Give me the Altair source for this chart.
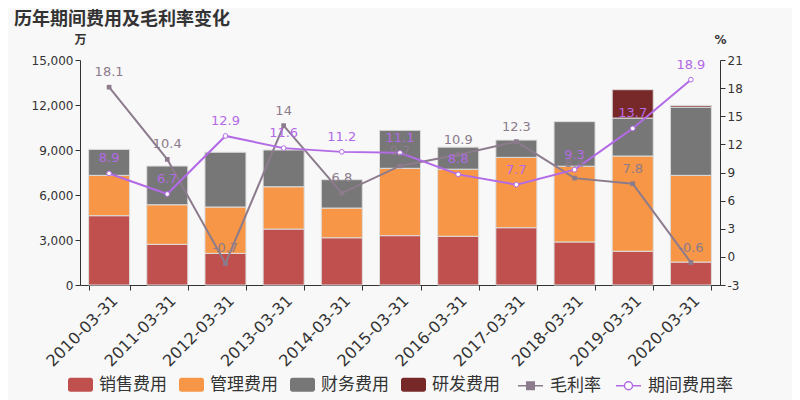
import altair as alt
import pandas as pd

dates = ["2010-03-31", "2011-03-31", "2012-03-31", "2013-03-31", "2014-03-31", "2015-03-31",
         "2016-03-31", "2017-03-31", "2018-03-31", "2019-03-31", "2020-03-31"]
bar_series = ["销售费用", "管理费用", "财务费用", "研发费用"]
sales = [4620, 2710, 2110, 3730, 3150, 3290, 3250, 3820, 2870, 2250, 1530]
admin = [2690, 2640, 3090, 2820, 1980, 4490, 4470, 4690, 5050, 6350, 5780]
finance = [1730, 2580, 3650, 2450, 1890, 2530, 1470, 1150, 2970, 2530, 4550]
rnd = [0, 0, 0, 0, 0, 0, 0, 0, 0, 1890, 110]
line_series = ["毛利率", "期间费用率"]
margin = [18.1, 10.4, -0.7, 14, 6.8, 9.7, 10.9, 12.3, 8.4, 7.8, -0.6]
rate = [8.9, 6.7, 12.9, 11.6, 11.2, 11.1, 8.8, 7.7, 9.3, 13.7, 18.9]
left_ticks = [0, 3000, 6000, 9000, 12000, 15000]
right_ticks = [-3, 0, 3, 6, 9, 12, 15, 18, 21]

bar_colors = ["#c0504d", "#f79646", "#777777", "#772828"]
c_margin = "#8c7b8c"
c_rate = "#b36ae6"
FONT_CJK = "Noto Sans CJK SC"
FONT_NUM = "DejaVu Sans"

rows = []
for i, d in enumerate(dates):
    for k, (name, arr) in enumerate(zip(bar_series, [sales, admin, finance, rnd])):
        rows.append({"date": d, "series": name, "value": arr[i], "idx": k})
df_bars = pd.DataFrame(rows)

lrows = []
for i, d in enumerate(dates):
    lrows.append({"date": d, "series": "毛利率", "value": margin[i], "label": str(margin[i])})
    lrows.append({"date": d, "series": "期间费用率", "value": rate[i], "label": str(rate[i])})
df_lines = pd.DataFrame(lrows)

x_enc = alt.X("date:N", sort=dates, title=None,
              scale=alt.Scale(paddingInner=0.295, paddingOuter=0.1475),
              axis=alt.Axis(labelAngle=-45, labelFontSize=16, labelFont=FONT_NUM,
                            labelColor="#333", domainColor="#333", tickColor="#333",
                            tickSize=5, tickBand="extent", labelPadding=2, grid=False))

bars = alt.Chart(df_bars).transform_filter("datum.value > 0").mark_bar(
    stroke="#dddddd", strokeWidth=1
).encode(
    x=x_enc,
    y=alt.Y("value:Q", stack="zero", title="万",
            scale=alt.Scale(domain=[0, 15000], nice=False),
            axis=alt.Axis(values=left_ticks, format=",d", labelFontSize=12, labelFont=FONT_NUM,
                          labelColor="#333", domainColor="#333", tickColor="#333", tickSize=5,
                          grid=False, titleAngle=0, titleX=0, titleY=-21, titleAlign="center",
                          titleBaseline="middle", titleFont=FONT_CJK, titleFontSize=12,
                          titleFontWeight="bold", titleColor="#333", orient="left")),
    color=alt.Color("series:N", sort=bar_series,
                    scale=alt.Scale(domain=bar_series, range=bar_colors),
                    legend=alt.Legend(title=None, orient="none", legendX=-12, legendY=312,
                                      direction="horizontal", columns=4, columnPadding=12,
                                      labelOffset=6, labelFontSize=17, labelFont=FONT_CJK,
                                      labelColor="#333", symbolSize=625, symbolStrokeWidth=0,
                                      symbolOpacity=1,
                                      symbolType="M-0.8,-0.56H0.8A0.2,0.2,0,0,1,1,-0.36V0.36A0.2,0.2,0,0,1,0.8,0.56H-0.8A0.2,0.2,0,0,1,-1,0.36V-0.36A0.2,0.2,0,0,1,-0.8,-0.56Z")),
    order=alt.Order("idx:Q", sort="ascending"),
)

y_right = alt.Y("value:Q", title="%",
                scale=alt.Scale(domain=[-3, 21], nice=False, zero=False),
                axis=alt.Axis(values=right_ticks, labelExpr="'' + datum.value", labelFontSize=12,
                              labelFont=FONT_NUM, labelColor="#333", domainColor="#333",
                              tickColor="#333", tickSize=5, grid=False, titleAngle=0, titleX=0,
                              titleY=-21, titleAlign="center", titleBaseline="middle",
                              titleFont=FONT_NUM, titleFontSize=12, titleFontWeight="bold",
                              titleColor="#333", orient="right"))

sq_path = "M-1,0H-0.3M0.3,0H1M-0.3,-0.3H0.3V0.3H-0.3Z"
ci_path = "M-1,0H-0.32M0.32,0H1M0.32,0A0.32,0.32,0,1,1,-0.32,0A0.32,0.32,0,1,1,0.32,0Z"

base = alt.Chart(df_lines)
line = base.mark_line(strokeWidth=2).encode(
    x=alt.X("date:N", sort=dates),
    y=y_right,
    stroke=alt.Stroke("series:N", sort=line_series,
                      scale=alt.Scale(domain=line_series, range=[c_margin, c_rate]),
                      legend=alt.Legend(title=None, orient="none", legendX=437, legendY=312,
                                        direction="horizontal", columns=2, columnPadding=12,
                                        labelOffset=6, labelFontSize=17, labelFont=FONT_CJK,
                                        labelColor="#333", symbolSize=625, symbolStrokeWidth=1.5,
                                        symbolType=alt.ExprRef(f"datum.label == '毛利率' ? '{sq_path}' : '{ci_path}'"),
                                        symbolFillColor=alt.ExprRef(f"datum.label == '毛利率' ? '{c_margin}' : 'white'"))),
)
pts_m = base.transform_filter("datum.series == '毛利率'").mark_point(
    shape="square", filled=True, size=22, color=c_margin, opacity=1
).encode(x=alt.X("date:N", sort=dates), y=y_right)
pts_r = base.transform_filter("datum.series == '期间费用率'").mark_point(
    shape="circle", filled=True, size=22, fill="white", stroke=c_rate, strokeWidth=1, opacity=1
).encode(x=alt.X("date:N", sort=dates), y=y_right)
txt_m = base.transform_filter("datum.series == '毛利率'").mark_text(
    dy=-15, fontSize=13, font=FONT_NUM, color=c_margin
).encode(x=alt.X("date:N", sort=dates), y=y_right, text="label:N")
txt_r = base.transform_filter("datum.series == '期间费用率'").mark_text(
    dy=-15, fontSize=13, font=FONT_NUM, color=c_rate
).encode(x=alt.X("date:N", sort=dates), y=y_right, text="label:N")

right = alt.layer(line, pts_m, pts_r, txt_m, txt_r)

chart = alt.layer(bars, right).resolve_scale(y="independent").properties(
    width=640, height=225,
    autosize=alt.AutoSizeParams(type="none"),
    padding={"left": 72, "top": 52, "right": 72, "bottom": 115},
    background="#f8f8f8",
    title=alt.TitleParams("历年期间费用及毛利率变化", anchor="start", frame="group", dx=-66,
                          offset=4, fontSize=18, font=FONT_CJK, fontWeight="bold", color="#333"),
).configure_view(strokeWidth=0)

chart.save("out.html", embed_options={"renderer": "svg", "actions": False})
